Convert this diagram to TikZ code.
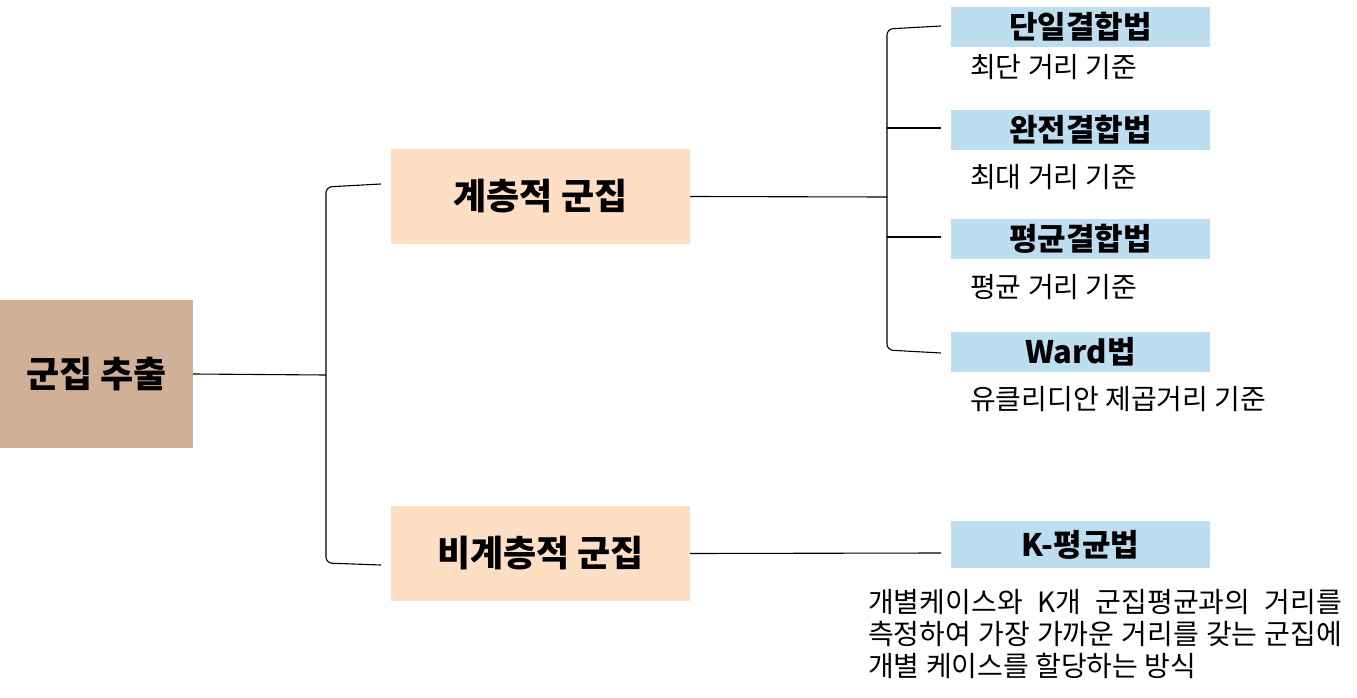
\documentclass[tikz,border=0pt]{standalone}
\usepackage{fontspec}
\setmainfont{Noto Sans CJK KR}
\begin{document}
\begin{tikzpicture}[x=1pt,y=-1pt]
\useasboundingbox (0,0) rectangle (1357,698);
\definecolor{tanc}{HTML}{D0B096}
\definecolor{peach}{HTML}{FFDFC3}
\definecolor{lblue}{HTML}{BDDEF0}
\tikzset{
  rootbox/.style={fill=tanc, minimum width=193pt, minimum height=148pt, inner sep=0pt, font=\fontsize{36}{40}\selectfont\bfseries},
  midbox/.style={fill=peach, minimum width=299pt, minimum height=95pt, inner sep=0pt, font=\fontsize{36}{40}\selectfont\bfseries},
  leafbox/.style={fill=lblue, minimum width=259pt, minimum height=40pt, inner sep=0pt, font=\fontsize{31}{34}\selectfont\bfseries},
  desc/.style={anchor=west, inner sep=0pt, font=\fontsize{28}{32}\selectfont},
  conn/.style={draw=black, line width=1.1pt, rounded corners=6pt}
}
\node[rootbox] (root) at (96.5,374) {군집 추출};
\node[midbox] (hier) at (540.5,196.5) {계층적 군집};
\node[midbox] (nonh) at (540.5,553.5) {비계층적 군집};
\node[leafbox] (l1) at (1080.5,27) {단일결합법};
\node[leafbox] (l2) at (1080.5,130) {완전결합법};
\node[leafbox] (l3) at (1080.5,239) {평균결합법};
\node[leafbox] (l4) at (1080.5,352) {Ward법};
\node[leafbox, minimum height=47pt] (l5) at (1080.5,544.5) {K-평균법};
\node[desc] (d1) at (970,67) {최단 거리 기준};
\node[desc] (d2) at (970,177) {최대 거리 기준};
\node[desc] (d3) at (970,287) {평균 거리 기준};
\node[desc] (d4) at (970,399) {유클리디안 제곱거리 기준};
\node[desc, text width=474pt, align=justify, anchor=north west] (d5) at (868,589) {개별케이스와 K개 군집평균과의 거리를\linebreak 측정하여 가장 가까운 거리를 갖는 군집에\linebreak 개별 케이스를 할당하는 방식};
% left bracket
\coordinate (lb) at (326,375);
\coordinate (lt1) at (381,184);
\coordinate (lb1) at (381,565);
\draw[conn] (root.east) -- (lb);
\draw[conn] (lt1) -- (326,187) -- (326,563) -- (lb1);
% right bracket
\coordinate (rb) at (887,197);
\coordinate (rt1) at (941,26);
\coordinate (rt2) at (941,128);
\coordinate (rt3) at (941,237);
\coordinate (rt4) at (941,353);
\draw[conn] (hier.east) -- (rb);
\draw[conn] (rt1) -- (887,29) -- (887,350) -- (rt4);
\draw[conn] (887,128) -- (rt2);
\draw[conn] (887,237) -- (rt3);
\coordinate (k1) at (941,553);
\draw[conn] (nonh.east) -- (k1);
\end{tikzpicture}
\end{document}
